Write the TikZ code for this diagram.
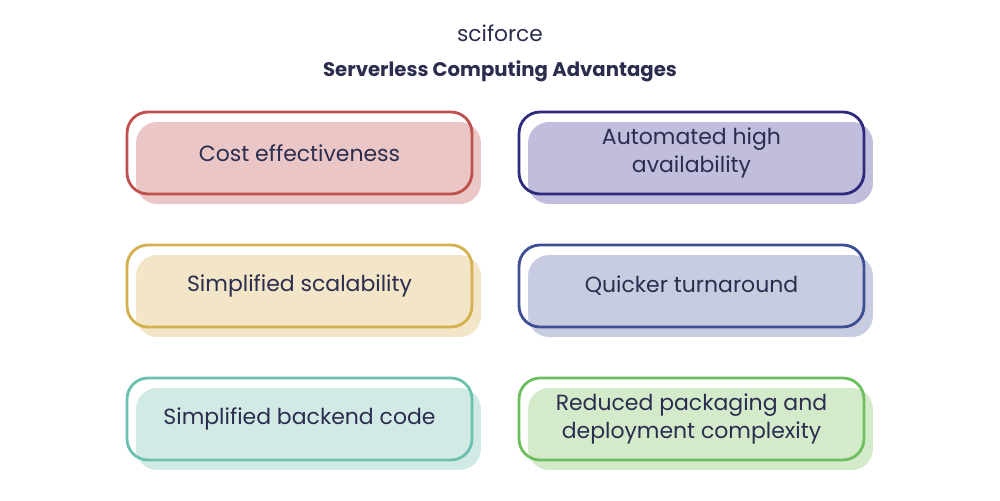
\documentclass[tikz,border=0pt]{standalone}
\usepackage{fontspec}
\setmainfont{Poppins}
\definecolor{txt}{HTML}{2B2D4E}
\definecolor{redB}{HTML}{C0504D}\definecolor{redF}{HTML}{EBC6C7}
\definecolor{purB}{HTML}{2E2A7E}\definecolor{purF}{HTML}{C1BDDC}
\definecolor{yelB}{HTML}{D4B04E}\definecolor{yelF}{HTML}{F2E5C8}
\definecolor{bluB}{HTML}{3E4E94}\definecolor{bluF}{HTML}{C8CCE0}
\definecolor{teaB}{HTML}{6CC0B0}\definecolor{teaF}{HTML}{D2EAE6}
\definecolor{greB}{HTML}{6DBE5E}\definecolor{greF}{HTML}{D4EBCB}
\tikzset{
  card/.style={draw=#1, line width=1.6pt, rounded corners=12pt, minimum width=6.9cm, minimum height=1.64cm,
    text=txt, align=center, font=\fontsize{12.5}{15.4}\selectfont},
  pad/.style={fill=#1, rounded corners=12pt, minimum width=6.9cm, minimum height=1.64cm}
}
\begin{document}
\begin{tikzpicture}[x=0.02cm,y=-0.02cm]
\useasboundingbox (0,0) rectangle (1000,500);
\node[text=txt, font=\fontsize{12.4}{15}\selectfont] (logo) at (500,33) {sciforce};
\node[text=txt, font=\bfseries\fontsize{11.2}{13}\selectfont] (title) at (500,71) {Serverless Computing Advantages};
% shaded pads
\node[pad=redF] (p1) at (308.5,163) {};
\node[pad=purF] (p2) at (700.5,163) {};
\node[pad=yelF] (p3) at (308.5,296) {};
\node[pad=bluF] (p4) at (700.5,296) {};
\node[pad=teaF] (p5) at (308.5,429) {};
\node[pad=greF] (p6) at (700.5,429) {};
% outlined cards
\node[card=redB] (c1) at (299.5,153) {Cost effectiveness};
\node[card=purB] (c2) at (691.5,153) {Automated high\\availability};
\node[card=yelB] (c3) at (299.5,286) {Simplified scalability};
\node[card=bluB] (c4) at (691.5,286) {Quicker turnaround};
\node[card=teaB] (c5) at (299.5,419) {Simplified backend code};
\node[card=greB] (c6) at (691.5,419) {Reduced packaging and\\deployment complexity};
\end{tikzpicture}
\end{document}
